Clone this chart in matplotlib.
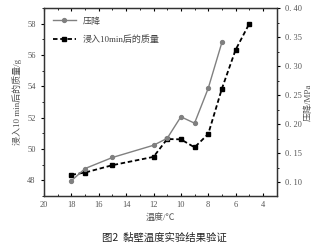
import matplotlib
matplotlib.use('Agg')
import matplotlib.pyplot as plt
from matplotlib.ticker import MultipleLocator

plt.rcParams['font.family'] = ['Liberation Serif', 'Noto Sans CJK SC', 'DejaVu Sans']

# pressure drop series (right axis)
temp_p = [18, 17, 15, 12, 11, 10, 9, 8, 7]
pressure = [0.103, 0.124, 0.143, 0.164, 0.176, 0.213, 0.202, 0.262, 0.341]

# mass after 10 min immersion (left axis)
temp_m = [18, 17, 15, 12, 11, 10, 9, 8, 7, 6, 5]
mass = [48.34, 48.49, 48.96, 49.49, 50.63, 50.61, 50.10, 50.95, 53.85, 56.33, 58.0]

x_ticks = [20, 18, 16, 14, 12, 10, 8, 6, 4]
label_p = '压降'
label_m = '浸入10min后的质量'

fig = plt.figure(figsize=(3.22, 2.46), dpi=100)
ax = fig.add_axes([0.137, 0.204, 0.722, 0.763])
ax2 = ax.twinx()

tick_col = '#555555'
ln_m, = ax.plot(temp_m, mass, '--', color='black', lw=1.3, marker='s', ms=3,
                dashes=(2.5, 1.5), label=label_m)
ln_p, = ax2.plot(temp_p, pressure, '-', color='#808080', lw=1.0, marker='o', ms=2.8,
                 label=label_p)

ax.set_xlim(20, 3)
ax.set_ylim(47, 59)
ax2.set_ylim(0.077, 0.40)
ax.set_xticks(x_ticks)
ax.xaxis.set_minor_locator(MultipleLocator(1))
ax.set_yticks([48, 50, 52, 54, 56, 58])
ax.yaxis.set_minor_locator(MultipleLocator(1))
ax2.set_yticks([0.10, 0.15, 0.20, 0.25, 0.30, 0.35, 0.40])
ax2.yaxis.set_minor_locator(MultipleLocator(0.025))
ax2.set_yticklabels(['0. 10', '0. 15', '0. 20', '0. 25', '0. 30', '0. 35', '0. 40'])

ax.tick_params(axis='x', which='both', direction='in', top=True, labelsize=6,
               labelcolor=tick_col, length=2.5)
ax.tick_params(axis='x', which='minor', length=1.5)
ax.tick_params(axis='y', which='both', direction='out', labelsize=6,
               labelcolor=tick_col, length=2.5)
ax.tick_params(axis='y', which='minor', length=1.5)
ax2.tick_params(axis='y', which='both', direction='out', labelsize=6,
                labelcolor=tick_col, length=2.5)
ax2.tick_params(axis='y', which='minor', length=1.5)

for a in (ax, ax2):
    for s in a.spines.values():
        s.set_color('#333333')
        s.set_linewidth(0.9)

ax.set_xlabel('温度/℃', fontsize=6.5, color='#555555', labelpad=3)
ax.set_ylabel('浸入10 min后的质量/g', fontsize=6.5, color='#555555', labelpad=4)
ax2.set_ylabel('压降/MPa', fontsize=6.5, color='#555555', labelpad=2)

ax.legend([ln_p, ln_m], [label_p, label_m], loc='upper left', frameon=False,
          fontsize=6.5, handlelength=2.5, borderaxespad=0.6, labelspacing=1.1,
          labelcolor='#444444')

fig.text(0.51, 0.035, '图2  黏壁温度实验结果验证', ha='center', va='center',
         fontsize=7.5, family=['Noto Sans CJK SC', 'DejaVu Sans'], color='#222222')

fig.savefig('out.png', dpi=100)
